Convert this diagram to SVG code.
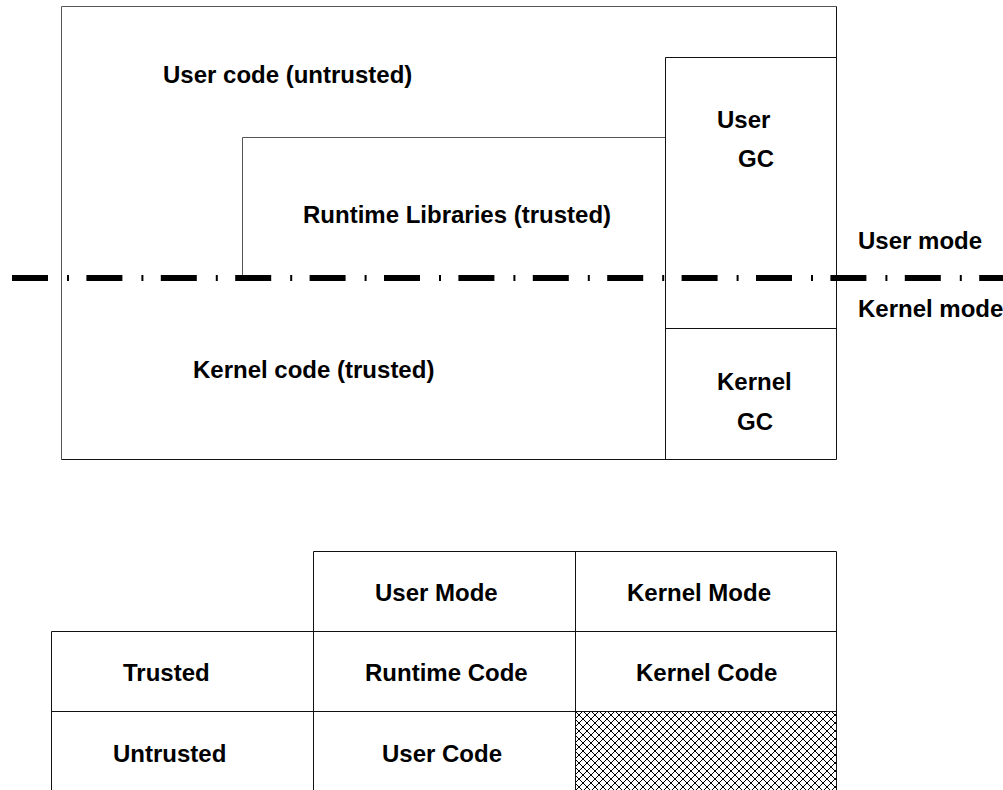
<svg xmlns="http://www.w3.org/2000/svg" width="1003" height="790" viewBox="0 0 1003 790">
<style>
.t{font-family:"Liberation Sans",Arial,sans-serif;font-weight:bold;font-size:24px;fill:#000}
.ln{stroke:#111;stroke-width:1;fill:none}
.gl{stroke:#555;stroke-width:1;fill:none}
.mode{stroke:#000;stroke-width:6;fill:none;stroke-dasharray:36 19 2 17.4}
</style>
<defs>
<pattern id="hatch" patternUnits="userSpaceOnUse" x="575" y="711" width="8" height="8">
<rect width="8" height="8" fill="#fff"/>
<path d="M0,0 L8,8 M8,0 L0,8" stroke="#000" stroke-width="1" shape-rendering="crispEdges"/>
</pattern>
</defs>
<rect width="1003" height="790" fill="#fff"/>

<g id="user-code">
<path class="gl" d="M61.5,459.5 V6.5 H836.5"/>
<text class="t" x="163" y="83">User code (untrusted)</text>
</g>
<g id="runtime-libraries">
<path class="gl" d="M242.5,278 V137.5 H665.5"/>
<text class="t" x="303" y="223">Runtime Libraries (trusted)</text>
</g>
<g id="kernel-code">
<path class="ln" d="M61.5,459.5 H836.5"/>
<text class="t" x="193" y="378">Kernel code (trusted)</text>
</g>
<g id="user-gc">
<path class="ln" d="M665.5,459.5 V57.5 H836.5 M836.5,6.5 V459.5"/>
<text class="t" x="717" y="128">User</text>
<text class="t" x="738" y="167">GC</text>
</g>
<g id="kernel-gc">
<path class="ln" d="M665.5,328.5 H836.5"/>
<text class="t" x="717" y="390">Kernel</text>
<text class="t" x="737" y="430">GC</text>
</g>

<g id="connectors">
<line class="mode" x1="12" y1="278" x2="1003" y2="278"/>
</g>
<g id="mode-labels">
<text class="t" x="858" y="249">User mode</text>
<text class="t" x="858" y="317">Kernel mode</text>
</g>

<g id="table">
<rect x="575.5" y="711.5" width="261" height="80" fill="url(#hatch)"/>
<path class="ln" d="M313.5,551.5 H836.5 M51.5,631.5 H836.5 M51.5,711.5 H836.5"/>
<path class="ln" d="M51.5,631.5 V790 M313.5,551.5 V790 M575.5,551.5 V790 M836.5,551.5 V790"/>
<g id="h-user"><text class="t" x="375" y="601">User Mode</text></g>
<g id="h-kernel"><text class="t" x="627" y="601">Kernel Mode</text></g>
<g id="r-trusted"><text class="t" x="123" y="681">Trusted</text></g>
<g id="c-runtime"><text class="t" x="365" y="681">Runtime Code</text></g>
<g id="c-kernel"><text class="t" x="636" y="681">Kernel Code</text></g>
<g id="r-untrusted"><text class="t" x="113" y="762">Untrusted</text></g>
<g id="c-user"><text class="t" x="382" y="762">User Code</text></g>
</g>
</svg>
